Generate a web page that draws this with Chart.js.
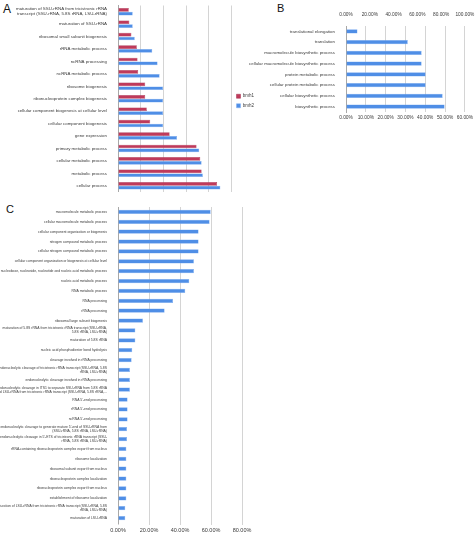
<!DOCTYPE html>
<html>
<head>
<meta charset="utf-8">
<script src="https://cdn.jsdelivr.net/npm/chart.js@4.4.1/dist/chart.umd.min.js"></script>
<style>
    body { margin: 0; background: #fff; width: 476px; height: 538px; overflow: hidden; position: relative;
           font-family: "Liberation Sans", Arial, sans-serif; }
    canvas { position: absolute; }
    .panel { position: absolute; color: #111; line-height: 1; }
</style>
</head>
<body>
<div class="panel" style="left:3px;top:3px;font-size:12px">A</div>
<div class="panel" style="left:277px;top:3px;font-size:11px">B</div>
<div class="panel" style="left:6px;top:204px;font-size:11px">C</div>
<canvas id="chartA" width="264" height="200" style="left:0;top:0"></canvas>
<canvas id="chartB" width="236" height="125" style="left:240px;top:0"></canvas>
<canvas id="chartC" width="262" height="338" style="left:0;top:200px"></canvas>
<script>
var seriesNames = ["bmh1", "bmh2"];

var categoriesA = [
    ["maturation of SSU-rRNA from tricistronic rRNA", "transcript (SSU-rRNA, 5.8S rRNA, LSU-rRNA)"],
    "maturation of SSU-rRNA",
    "ribosomal small subunit biogenesis",
    "rRNA metabolic process",
    "ncRNA processing",
    "ncRNA metabolic process",
    "ribosome biogenesis",
    "ribonucleoprotein complex biogenesis",
    "cellular component biogenesis at cellular level",
    "cellular component biogenesis",
    "gene expression",
    "primary metabolic process",
    "cellular metabolic process",
    "metabolic process",
    "cellular process"
];
var bmh1A = [9.5, 10, 11.8, 16.6, 17.2, 17.8, 24, 24, 25.4, 28.4, 45.5, 69.2, 72.5, 73.7, 87.3];
var bmh2A = [13, 13, 14.8, 30.2, 34.9, 36.7, 39.7, 39.7, 39.7, 39.7, 52, 71.6, 73.7, 74.8, 90.2];
var valueTicksA = [0, 20, 40, 60, 80, 100];

var categoriesB = [
    "translational elongation",
    "translation",
    "macromolecule biosynthetic process",
    "cellular macromolecule biosynthetic process",
    "protein metabolic process",
    "cellular protein metabolic process",
    "cellular biosynthetic process",
    "biosynthetic process"
];
var bmh2B = [5.8, 31.2, 38.2, 38.2, 40.2, 40.2, 48.8, 49.8];
var bottomTicksB = [0, 10, 20, 30, 40, 50, 60];
var topTicksB = [0, 20, 40, 60, 80, 100];

var categoriesC = [
    "macromolecule metabolic process",
    "cellular macromolecule metabolic process",
    "cellular component organization or biogenesis",
    "nitrogen compound metabolic process",
    "cellular nitrogen compound metabolic process",
    "cellular component organization or biogenesis at cellular level",
    "nucleobase, nucleoside, nucleotide and nucleic acid metabolic process",
    "nucleic acid metabolic process",
    "RNA metabolic process",
    "RNA processing",
    "rRNA processing",
    "ribosomal large subunit biogenesis",
    ["maturation of 5.8S rRNA from tricistronic rRNA transcript (SSU-rRNA,", "5.8S rRNA, LSU-rRNA)"],
    "maturation of 5.8S rRNA",
    "nucleic acid phosphodiester bond hydrolysis",
    "cleavage involved in rRNA processing",
    ["endonucleolytic cleavage of tricistronic rRNA transcript (SSU-rRNA, 5.8S", "rRNA, LSU-rRNA)"],
    "endonucleolytic cleavage involved in rRNA processing",
    ["endonucleolytic cleavage in ITS1 to separate SSU-rRNA from 5.8S rRNA", "and LSU-rRNA from tricistronic rRNA transcript (SSU-rRNA, 5.8S rRNA,..."],
    "RNA 5'-end processing",
    "rRNA 5'-end processing",
    "ncRNA 5'-end processing",
    ["endonucleolytic cleavage to generate mature 5'-end of SSU-rRNA from", "(SSU-rRNA, 5.8S rRNA, LSU-rRNA)"],
    ["endonucleolytic cleavage in 5'-ETS of tricistronic rRNA transcript (SSU-", "rRNA, 5.8S rRNA, LSU-rRNA)"],
    "rRNA-containing ribonucleoprotein complex export from nucleus",
    "ribosome localization",
    "ribosomal subunit export from nucleus",
    "ribonucleoprotein complex localization",
    "ribonucleoprotein complex export from nucleus",
    "establishment of ribosome localization",
    ["maturation of LSU-rRNA from tricistronic rRNA transcript (SSU-rRNA, 5.8S", "rRNA, LSU-rRNA)"],
    "maturation of LSU-rRNA"
];
var bmh2C = [59.8, 59.1, 52, 52, 52, 49, 49, 46, 43.4, 35.5, 30.1, 16.1, 11.2, 11.2, 9.2, 8.8,
             7.7, 7.7, 7.7, 6.2, 6.2, 6.2, 5.8, 5.8, 5.4, 5.4, 5.4, 5.4, 5.4, 5.4, 4.7, 4.7];
var valueTicksC = [0, 20, 40, 60, 80];

var redColor = "#BF3A5B";
var blueColor = "#4F8EE6";
var gridColor = "#D4D4D4";
var axisColor = "#A8A8A8";
var textColor = "#3A3A3A";

Chart.defaults.font.family = '"Liberation Sans", Arial, sans-serif';
Chart.defaults.color = textColor;
Chart.defaults.animation = false;

function percentLabel(value) {
    return value.toFixed(2) + "%";
}

function rangeOf(ticks) {
    return { min: ticks[0], max: ticks[ticks.length - 1], stepSize: ticks[1] - ticks[0] };
}

function categoryAxis(width, fontSize) {
    return {
        afterFit: function (scale) { scale.width = width; },
        grid: { display: false },
        border: { display: true, color: axisColor },
        ticks: { autoSkip: false, padding: 3, font: { size: fontSize, lineHeight: 1.15 }, color: textColor }
    };
}

function valueTicks(stepSize, fontSize, padding) {
    return {
        stepSize: stepSize, callback: percentLabel, autoSkip: false,
        maxRotation: 0, minRotation: 0, padding: padding,
        font: { size: fontSize }, color: textColor
    };
}

function drawChartA() {
    var range = rangeOf(valueTicksA);
    new Chart(document.getElementById("chartA").getContext("2d"), {
        type: "bar",
        data: {
            labels: categoriesA,
            datasets: [
                { label: seriesNames[0], data: bmh1A, backgroundColor: redColor, borderColor: "#A22F4C", borderWidth: 0.5 },
                { label: seriesNames[1], data: bmh2A, backgroundColor: blueColor, borderColor: "#7EAEF2", borderWidth: 0.5 }
            ]
        },
        options: {
            indexAxis: "y",
            responsive: false,
            devicePixelRatio: 1,
            categoryPercentage: 0.62,
            barPercentage: 0.95,
            layout: { padding: { top: 5, bottom: 3, left: 0, right: 0 } },
            plugins: {
                legend: {
                    position: "right",
                    labels: { boxWidth: 4, boxHeight: 4, padding: 5, font: { size: 4.5 }, color: textColor }
                },
                tooltip: { enabled: false }
            },
            scales: {
                x: {
                    min: range.min, max: range.max,
                    afterFit: function (scale) { scale.height = 0; },
                    ticks: { display: false, stepSize: range.stepSize },
                    grid: { color: gridColor, drawTicks: false },
                    border: { display: false }
                },
                y: categoryAxis(118, 4.4)
            }
        }
    });
}

function drawChartB() {
    var bottom = rangeOf(bottomTicksB);
    var top = rangeOf(topTicksB);
    new Chart(document.getElementById("chartB").getContext("2d"), {
        type: "bar",
        data: {
            labels: categoriesB,
            datasets: [
                { label: seriesNames[1], data: bmh2B, xAxisID: "x", backgroundColor: blueColor, borderColor: "#7EAEF2", borderWidth: 0.5 }
            ]
        },
        options: {
            indexAxis: "y",
            responsive: false,
            devicePixelRatio: 1,
            categoryPercentage: 0.4,
            barPercentage: 1,
            layout: { padding: { top: 10, bottom: 2, left: 0, right: 9 } },
            plugins: { legend: { display: false }, tooltip: { enabled: false } },
            scales: {
                xTop: {
                    position: "top",
                    min: top.min, max: top.max,
                    afterFit: function (scale) { scale.height = 16; },
                    grid: { display: false },
                    border: { display: false },
                    ticks: valueTicks(top.stepSize, 4.8, 0)
                },
                x: {
                    position: "bottom",
                    min: bottom.min, max: bottom.max,
                    afterFit: function (scale) { scale.height = 11; },
                    grid: { color: gridColor, drawTicks: false },
                    border: { display: false },
                    ticks: valueTicks(bottom.stepSize, 4.8, 3)
                },
                y: categoryAxis(106, 4.4)
            }
        }
    });
}

function drawChartC() {
    var range = rangeOf(valueTicksC);
    new Chart(document.getElementById("chartC").getContext("2d"), {
        type: "bar",
        data: {
            labels: categoriesC,
            datasets: [
                { label: seriesNames[1], data: bmh2C, backgroundColor: blueColor, borderColor: "#7EAEF2", borderWidth: 0.5 }
            ]
        },
        options: {
            indexAxis: "y",
            responsive: false,
            devicePixelRatio: 1,
            categoryPercentage: 0.42,
            barPercentage: 1,
            layout: { padding: { top: 7, bottom: 0, left: 0, right: 20 } },
            plugins: { legend: { display: false }, tooltip: { enabled: false } },
            scales: {
                x: {
                    min: range.min, max: range.max,
                    afterFit: function (scale) { scale.height = 15; },
                    grid: { color: gridColor, tickLength: 2 },
                    border: { display: false },
                    ticks: valueTicks(range.stepSize, 5.5, 2)
                },
                y: categoryAxis(118, 3.4)
            }
        }
    });
}

drawChartA();
drawChartB();
drawChartC();
</script>
</body>
</html>
